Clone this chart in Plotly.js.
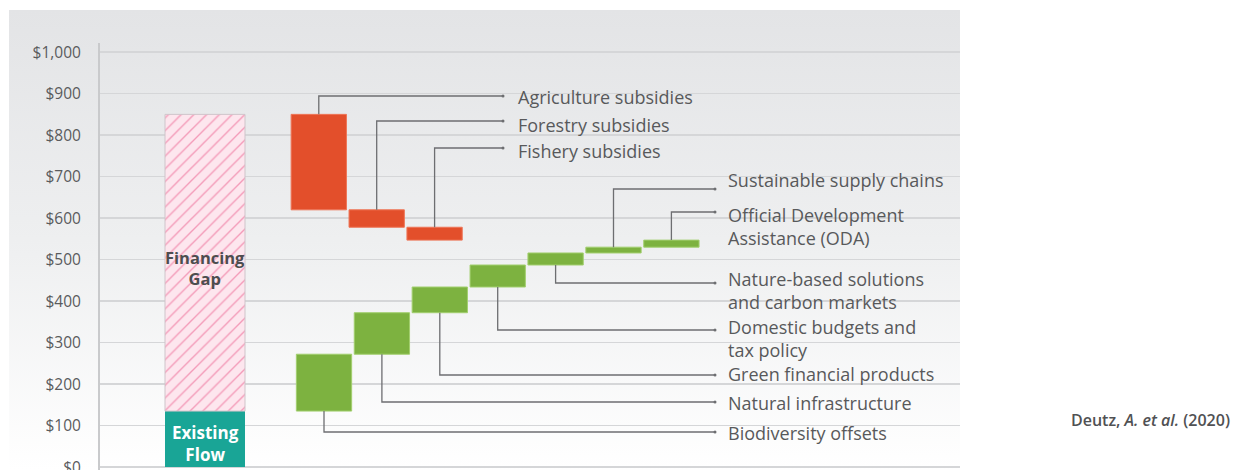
<!DOCTYPE html>
<html><head><meta charset="utf-8">
<script src="https://cdn.plot.ly/plotly-3.0.1.min.js"></script>
<style>html,body{margin:0;padding:0;background:#fff}#chart{width:1241px;height:470px}</style>
</head><body><div id="chart"></div>
<script>
// ---------- data ----------
const existingFlowLabel = "Existing<br>Flow";
const financingGapLabel = "Financing<br>Gap";
const existingFlow = 135;
const financingGapTop = 850;
const subsidyLabels = ["Agriculture subsidies", "Forestry subsidies", "Fishery subsidies"];
const subsidyValues = [-230, -42, -31];
const sourceLabels = ["Biodiversity offsets", "Natural infrastructure", "Green financial products",
  "Domestic budgets and<br>tax policy", "Nature-based solutions<br>and carbon markets",
  "Sustainable supply chains", "Official Development<br>Assistance (ODA)"];
const sourceValues = [137, 100, 62, 53, 29, 14, 17];
const yTickVals = [0, 100, 200, 300, 400, 500, 600, 700, 800, 900, 1000];
const yTickText = ["$0", "$100", "$200", "$300", "$400", "$500", "$600", "$700", "$800", "$900", "$1,000"];
const citation = "Deutz, <i>A. et al.</i> (2020)";

// ---------- layout constants (pixels) ----------
const W = 1241, H = 470;
const PL = 100, PR = 960, PT = 43, PB = 470;
const yRange = [-7, 1022];
const STEP = 57.9, G0 = 324;                 // green bar step & first centre (px)
const xRange = [(PL - G0) / STEP, (PR - G0) / STEP];
const xd = px => xRange[0] + (px - PL) / (PR - PL) * (xRange[1] - xRange[0]);
const yd = py => yRange[1] - (py - PT) / (PB - PT) * (yRange[1] - yRange[0]);

// callout positions (px)
const subLineY = [96, 121, 148], subTextY = [97, 125, 151];
const srcLineY = [432, 402, 375, 330, 283, 189, 212], srcTextY = [433, 403, 374, 338, 290, 180, 226];
const subDotX = 503, subTextX = 516, srcDotX = 715, srcTextX = 726;

const RED = "#e34f2b", GREEN = "#7db240", TEAL = "#19a596", LINE = "#6d6e71", TXT = "#58595b";
const FONT = "Open Sans, sans-serif";

// ---------- derived ----------
const subX = subsidyValues.map((v, i) => i - 0.09);
const subBase = []; { let r = financingGapTop; subsidyValues.forEach(v => { subBase.push(r); r += v; }); }
const srcX = sourceValues.map((v, i) => i);
const srcBase = []; { let r = existingFlow; sourceValues.forEach(v => { srcBase.push(r); r += v; }); }
const gapX = xd(205);

const traces = [];
traces.push({type: "bar", x: [gapX], y: [existingFlow], base: [0], width: [80 / STEP],
  marker: {color: TEAL, line: {width: 0}}, hoverinfo: "skip"});
traces.push({type: "bar", x: [gapX], y: [financingGapTop - existingFlow], base: [existingFlow], width: [80 / STEP],
  marker: {color: "#fde6ee", pattern: {shape: "/", fgcolor: "#f49ab8", bgcolor: "#fde6ee", size: 9, solidity: 0.15},
    line: {color: "#cfc4ca", width: 1}}, hoverinfo: "skip"});
traces.push({type: "bar", x: subX, y: subsidyValues, base: subBase, width: 0.955,
  marker: {color: RED, line: {color: "#ee7557", width: 1}}, hoverinfo: "skip"});
traces.push({type: "bar", x: srcX, y: sourceValues, base: srcBase, width: 0.955,
  marker: {color: GREEN, line: {color: "#a2cf6e", width: 1}}, hoverinfo: "skip"});

const annotations = [];
const dotsX = [], dotsY = [];
function callout(cx, edge, lineY, dotPx, textPx, textY, label) {
  traces.push({type: "scatter", mode: "lines", x: [cx, cx, xd(dotPx)], y: [edge, yd(lineY), yd(lineY)],
    line: {color: LINE, width: 1.3}, hoverinfo: "skip"});
  dotsX.push(xd(dotPx)); dotsY.push(yd(lineY));
  annotations.push({x: xd(textPx), y: yd(textY), xref: "x", yref: "y", xanchor: "left", yanchor: "middle",
    text: label, showarrow: false, align: "left", font: {family: FONT, size: 18, color: TXT}});
}
subsidyLabels.forEach((l, i) => callout(subX[i], subBase[i], subLineY[i], subDotX, subTextX, subTextY[i], l));
sourceLabels.forEach((l, i) => {
  const up = i >= 5;
  const edge = up ? srcBase[i] + sourceValues[i] : srcBase[i];
  callout(srcX[i], edge, srcLineY[i], srcDotX, srcTextX, srcTextY[i], l);
});
traces.push({type: "scatter", mode: "markers", x: dotsX, y: dotsY,
  marker: {color: LINE, size: 3}, hoverinfo: "skip"});

annotations.push({x: gapX, y: yd(268), xref: "x", yref: "y", text: financingGapLabel, showarrow: false,
  font: {family: FONT, size: 16.5, color: "#4d4d4f", weight: "bold"}, align: "center"});
annotations.push({x: gapX, y: yd(443), xref: "x", yref: "y", text: existingFlowLabel, showarrow: false,
  font: {family: FONT, size: 17, color: "#ffffff", weight: "bold"}, align: "center"});

// gradient background
const svg = "<svg xmlns='http://www.w3.org/2000/svg' width='951' height='460' preserveAspectRatio='none'>" +
  "<defs><linearGradient id='g' x1='0' y1='0' x2='0' y2='1'><stop offset='0' stop-color='#e3e4e6'/>" +
  "<stop offset='0.5' stop-color='#eeeff0'/><stop offset='1' stop-color='#ffffff'/></linearGradient></defs>" +
  "<rect width='951' height='460' fill='url(#g)'/></svg>";
const bgSrc = "data:image/svg+xml;charset=utf-8," + encodeURIComponent(svg);
const pw = PR - PL, ph = PB - PT;

annotations.push({x: (1232 - PL) / pw, y: (PB - 420) / ph, xref: "paper", yref: "paper", text: citation,
  showarrow: false, xanchor: "right", yanchor: "middle",
  font: {family: FONT, size: 16, color: "#505153", weight: 600}});

const layout = {
  width: W, height: H, margin: {l: PL, r: W - PR, t: PT, b: H - PB, pad: 0},
  paper_bgcolor: "#ffffff", plot_bgcolor: "rgba(0,0,0,0)",
  showlegend: false, barmode: "overlay",
  xaxis: {range: xRange, visible: false, fixedrange: true},
  yaxis: {range: yRange, tickmode: "array", tickvals: yTickVals, ticktext: yTickText, showgrid: true,
    gridcolor: "#d5d6d8", gridwidth: 1.6, zeroline: false, showline: true, linecolor: "#c9cacc", linewidth: 2,
    ticks: "", ticklabelstandoff: 14, ticklabeloverflow: "allow",
    tickfont: {family: FONT, size: 15.5, color: "#5a5b5d"}, fixedrange: true},
  images: [{source: bgSrc, xref: "paper", yref: "paper", x: (9 - PL) / pw, y: (PB - 10) / ph,
    sizex: 951 / pw, sizey: 460 / ph, xanchor: "left", yanchor: "top", sizing: "stretch", layer: "below"}],
  annotations: annotations
};

Plotly.newPlot("chart", traces, layout, {displayModeBar: false, staticPlot: true});
</script></body></html>
